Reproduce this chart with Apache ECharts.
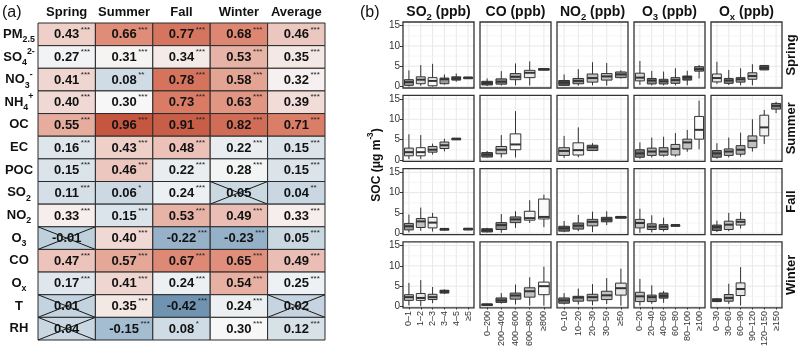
<!DOCTYPE html>
<html><head><meta charset="utf-8">
<script src="https://cdn.jsdelivr.net/npm/echarts@6/dist/echarts.min.js"></script>
<style>html,body{margin:0;padding:0;background:#fff}#c{width:800px;height:358px}</style>
</head><body><div id="c"></div>
<script>
const FONT = '"Liberation Sans", Arial, Helvetica, sans-serif';

// ---------- (a) correlation table ----------
const seasons = ['Spring', 'Summer', 'Fall', 'Winter', 'Average'];
const species = ['PM2.5', 'SO42-', 'NO3-', 'NH4+', 'OC', 'EC', 'POC', 'SO2', 'NO2', 'O3', 'CO', 'Ox', 'T', 'RH'];
const speciesLabels = ['{m|PM}{sub|2.5}', '{m|SO}{sub|4}{sup|2-}', '{m|NO}{sub|3}{sup|-}', '{m|NH}{sub|4}{sup|+}',
  '{m|OC}', '{m|EC}', '{m|POC}', '{m|SO}{sub|2}', '{m|NO}{sub|2}', '{m|O}{sub|3}', '{m|CO}', '{m|O}{sub|x}', '{m|T}', '{m|RH}'];
const rSpring  = [0.43, 0.27, 0.41, 0.40, 0.55, 0.16, 0.15, 0.11, 0.33, -0.01, 0.47, 0.17, 0.01, 0.04];
const rSummer  = [0.66, 0.31, 0.08, 0.30, 0.96, 0.43, 0.46, 0.06, 0.15, 0.40, 0.57, 0.41, 0.35, -0.15];
const rFall    = [0.77, 0.34, 0.78, 0.73, 0.91, 0.48, 0.22, 0.24, 0.53, -0.22, 0.67, 0.24, -0.42, 0.08];
const rWinter  = [0.68, 0.53, 0.58, 0.63, 0.82, 0.22, 0.28, 0.05, 0.49, -0.23, 0.65, 0.54, 0.24, 0.30];
const rAverage = [0.46, 0.35, 0.32, 0.39, 0.71, 0.15, 0.15, 0.04, 0.33, 0.05, 0.49, 0.25, 0.02, 0.12];
// number of significance stars (0 = not significant, crossed out)
const sigSpring  = [3, 3, 3, 3, 3, 3, 3, 3, 3, 0, 3, 3, 0, 0];
const sigSummer  = [3, 3, 2, 3, 3, 3, 3, 1, 3, 3, 3, 3, 3, 3];
const sigFall    = [3, 3, 3, 3, 3, 3, 3, 3, 3, 3, 3, 3, 3, 1];
const sigWinter  = [3, 3, 3, 3, 3, 3, 3, 0, 3, 3, 3, 3, 3, 3];
const sigAverage = [3, 3, 3, 3, 3, 3, 3, 2, 3, 3, 3, 3, 0, 3];

// ---------- (b) SOC box plots ----------
const seasonRows = ['Spring', 'Summer', 'Fall', 'Winter'];
const pollutantTitles = ['{m|SO}{sub|2}{m| (ppb)}', '{m|CO (ppb)}', '{m|NO}{sub|2}{m| (ppb)}', '{m|O}{sub|3}{m| (ppb)}', '{m|O}{sub|x}{m| (ppb)}'];
const binsSO2 = ['0–1', '1–2', '2–3', '3–4', '4–5', '≥5'];
const binsCO  = ['0–200', '200–400', '400–600', '600–800', '≥800'];
const binsNO2 = ['0–10', '10–20', '20–30', '30–50', '≥50'];
const binsO3  = ['0–20', '20–40', '40–60', '60–80', '80–100', '≥100'];
const binsOx  = ['0–30', '30–60', '60–90', '90–120', '120–150', '≥150'];
const socTicks = [0, 5, 10, 15];
const socMinor = [2.5, 7.5, 12.5];

// box stats: [bin index, min, Q1, median, Q3, max]; fill level per box (0 light .. 1 dark)
const boxSpringSO2 = [[0,0.0,0.3,1.1,1.7,4.0],[1,0.2,0.7,1.7,2.4,5.3],[2,0.0,0.2,1.4,2.2,5.6],[3,0.5,0.7,1.8,2.1,3.0],[4,1.2,1.6,2.0,2.4,3.2],[5,2.0,2.05,2.2,2.3,2.4]];
const fillSpringSO2 = [0.5,0.2,0,0.5,0.9,0.8];
const boxSummerSO2 = [[0,0.2,1.0,1.9,2.9,6.3],[1,0.2,1.0,1.9,3.0,6.1],[2,1.3,1.9,2.5,3.3,4.0],[3,2.1,2.8,3.6,4.4,5.2],[4,5.0,5.1,5.2,5.3,5.4]];
const fillSummerSO2 = [0.2,0,0.3,0.3,0.9];
const boxFallSO2 = [[0,0.2,0.8,1.7,2.4,4.6],[1,0.6,1.4,2.9,3.6,6.3],[2,0.4,1.3,2.6,3.9,5.0],[3,1.0,1.0,1.05,1.1,1.15],[5,1.05,1.05,1.1,1.15,1.2]];
const fillFallSO2 = [0.5,0.3,0.05,0.9,0.9];
const boxWinterSO2 = [[0,0.25,1.5,2.3,2.9,5.8],[1,0.1,1.5,2.1,3.2,6.5],[2,0.8,1.7,2.3,3.0,4.8],[3,3.1,3.3,3.7,4.0,4.2]];
const fillWinterSO2 = [0.3,0.1,0.3,0.9];

const boxSpringCO = [[0,0.15,0.4,0.9,1.3,2.0],[1,0.25,0.6,1.2,1.9,3.8],[2,0.3,1.7,2.4,3.2,5.7],[3,0.25,2.2,3.4,4.0,6.2],[4,4.15,4.2,4.3,4.4,4.45]];
const fillSpringCO = [0.9,0.6,0.4,0.1,0.9];
const boxSummerCO = [[0,0.6,0.7,1.3,1.8,2.2],[1,0.6,1.5,2.5,3.3,6.1],[2,0.6,2.5,3.8,6.4,12.0]];
const fillSummerCO = [0.8,0.3,0];
const boxFallCO = [[0,0.2,0.3,0.75,1.1,1.3],[1,0.1,0.9,2.0,2.6,4.7],[2,1.3,2.6,3.4,4.0,5.4],[3,2.5,3.2,3.7,5.4,8.1],[4,1.5,3.5,4.0,8.4,9.5]];
const fillFallCO = [0.9,0.6,0.5,0.05,0];
const boxWinterCO = [[0,0.35,0.4,0.5,0.6,0.65],[1,0.7,1.0,1.5,2.1,3.3],[2,0.5,1.8,2.7,3.3,5.4],[3,0.2,2.3,3.75,4.6,7.2],[4,0.2,2.9,5.0,6.0,9.8]];
const fillWinterCO = [0.9,0.7,0.5,0.3,0];

const boxSpringNO2 = [[0,0.2,0.3,1.0,1.5,3.0],[1,0.25,0.7,1.4,2.0,4.3],[2,0.3,1.1,2.1,3.1,6.0],[3,0.25,1.6,2.5,3.2,5.8],[4,2.0,2.2,3.0,3.6,4.0]];
const fillSpringNO2 = [0.9,0.5,0.3,0.3,0.5];
const boxSummerNO2 = [[0,0.5,1.1,2.2,3.0,5.9],[1,0.65,1.2,2.4,4.2,8.0],[2,2.2,2.3,3.1,3.6,4.1]];
const fillSummerNO2 = [0.3,0.05,0.6];
const boxFallNO2 = [[0,0.25,0.5,1.2,1.7,3.0],[1,0.5,1.0,1.85,2.5,4.5],[2,0.25,1.8,2.8,3.4,5.3],[3,2.0,2.8,3.4,3.9,5.4],[4,3.95,3.95,4.0,4.05,4.1]];
const fillFallNO2 = [0.8,0.6,0.4,0.8,0.9];
const boxWinterNO2 = [[0,0.5,0.8,1.5,2.1,3.3],[1,0.5,1.3,2.2,2.5,4.4],[2,0.3,1.4,2.3,3.0,5.5],[3,0.6,1.7,2.75,3.75,7.0],[4,0.2,2.8,4.5,5.75,9.3]];
const fillWinterNO2 = [0.7,0.5,0.4,0.3,0.1];

const boxSpringO3 = [[0,0.4,1.4,2.2,3.3,6.3],[1,0.3,0.65,1.5,2.0,3.85],[2,0.3,0.65,1.3,1.8,3.7],[3,0.3,0.8,1.6,2.2,4.5],[4,0.3,1.6,2.3,2.6,3.9],[5,2.0,3.8,4.3,4.9,5.3]];
const fillSpringO3 = [0.2,0.6,0.6,0.5,0.9,0.6];
const boxSummerO3 = [[0,0.3,0.65,1.6,2.5,4.3],[1,0.6,1.1,2.05,2.9,5.5],[2,0.8,1.15,2.05,3.0,5.7],[3,0.8,1.2,2.7,3.8,6.6],[4,2.0,2.7,4.3,5.1,7.4],[5,2.6,5.1,7.4,10.7,14.6]];
const fillSummerO3 = [0.7,0.4,0.4,0.3,0.3,0];
const boxFallO3 = [[0,0.1,1.3,2.5,3.4,6.0],[1,0.2,0.9,1.6,2.3,4.4],[2,0.4,0.9,1.6,2.1,3.8],[3,1.9,1.95,2.0,2.05,2.1]];
const fillFallO3 = [0.3,0.5,0.6,0.9];
const boxWinterO3 = [[0,0.25,1.2,2.5,3.5,6.8],[1,0.65,1.2,2.3,2.8,5.2],[2,0.9,2.05,2.6,3.3,3.8]];
const fillWinterO3 = [0.3,0.5,0.8];

const boxSpringOx = [[0,0.65,1.15,2.1,3.1,6.1],[1,0.4,0.8,1.5,2.0,4.1],[2,0.3,1.1,1.8,2.2,4.5],[3,0.3,1.8,2.6,3.4,5.5],[4,4.1,4.1,4.6,5.2,5.2]];
const fillSpringOx = [0.1,0.6,0.5,0.3,0.9];
const boxSummerOx = [[0,0.3,0.65,1.6,2.3,4.1],[1,0.6,1.1,2.05,2.7,5.5],[2,0.8,1.4,2.5,3.5,6.7],[3,2.05,3.0,4.7,5.9,10.0],[4,3.9,5.9,8.0,11.0,12.3],[5,11.5,12.5,13.3,13.9,14.3]];
const fillSummerOx = [0.7,0.4,0.4,0.3,0.05,0.6];
const boxFallOx = [[0,0.3,0.65,1.5,2.0,3.1],[1,0.5,0.9,2.1,2.95,5.0],[2,1.15,2.0,2.8,3.4,5.2]];
const fillFallOx = [0.8,0.3,0.3];
const boxWinterOx = [[0,1.1,1.2,1.55,1.9,2.0],[1,0.65,1.3,2.1,2.95,5.6],[2,0.25,2.7,4.3,5.8,9.7]];
const fillWinterOx = [0.9,0.4,0.1];

// ---------- build ----------
const corrCols = [rSpring, rSummer, rFall, rWinter, rAverage];
const sigCols = [sigSpring, sigSummer, sigFall, sigWinter, sigAverage];
const cells = [];
corrCols.forEach((col, ci) => col.forEach((v, ri) => cells.push([ci, ri, v, sigCols[ci][ri]])));

const binCols = [binsSO2, binsCO, binsNO2, binsO3, binsOx];
const boxTable = [
  [boxSpringSO2, boxSpringCO, boxSpringNO2, boxSpringO3, boxSpringOx],
  [boxSummerSO2, boxSummerCO, boxSummerNO2, boxSummerO3, boxSummerOx],
  [boxFallSO2, boxFallCO, boxFallNO2, boxFallO3, boxFallOx],
  [boxWinterSO2, boxWinterCO, boxWinterNO2, boxWinterO3, boxWinterOx]];
const fillTable = [
  [fillSpringSO2, fillSpringCO, fillSpringNO2, fillSpringO3, fillSpringOx],
  [fillSummerSO2, fillSummerCO, fillSummerNO2, fillSummerO3, fillSummerOx],
  [fillFallSO2, fillFallCO, fillFallNO2, fillFallO3, fillFallOx],
  [fillWinterSO2, fillWinterCO, fillWinterNO2, fillWinterO3, fillWinterOx]];

const mctx = document.createElement('canvas').getContext('2d');
mctx.font = 'bold 13px ' + FONT;

function richSet(size, color) {
  return {
    m:   {fontSize: size, fontWeight: 'bold', fontFamily: FONT, color: color, fill: color, lineHeight: 20},
    sub: {fontSize: size * 0.68, fontWeight: 'bold', fontFamily: FONT, color: color, fill: color, lineHeight: 12, verticalAlign: 'bottom'},
    sup: {fontSize: size * 0.68, fontWeight: 'bold', fontFamily: FONT, color: color, fill: color, lineHeight: 12, verticalAlign: 'top'}
  };
}

function renderCell(params, api) {
  const ci = api.value(0), ri = api.value(1), v = api.value(2), sig = api.value(3);
  const c = api.coord([ci, ri]);
  const s = api.size([1, 1]);
  const x0 = c[0] - s[0] / 2, y0 = c[1] - s[1] / 2;
  const txt = v.toFixed(2);
  const w = mctx.measureText(txt).width;
  const ch = [
    {type: 'rect', shape: {x: x0, y: y0, width: s[0], height: s[1]}, style: {fill: api.visual('color'), stroke: '#2a2a2a', lineWidth: 1}},
    {type: 'text', style: {text: txt, x: c[0], y: c[1] + 0.5, align: 'center', verticalAlign: 'middle', fontSize: 13, fontWeight: 'bold', fontFamily: FONT, fill: '#111'}}
  ];
  if (sig > 0) {
    ch.push({type: 'text', style: {text: '*'.repeat(sig), x: c[0] + w / 2 + 1.5, y: c[1] - 5, align: 'left', verticalAlign: 'middle', fontSize: 8, fontFamily: FONT, fill: '#222'}});
  } else {
    ch.push({type: 'line', shape: {x1: x0, y1: y0, x2: x0 + s[0], y2: y0 + s[1]}, style: {stroke: '#1a1a1a', lineWidth: 1}});
    ch.push({type: 'line', shape: {x1: x0, y1: y0 + s[1], x2: x0 + s[0], y2: y0}, style: {stroke: '#1a1a1a', lineWidth: 1}});
  }
  return {type: 'group', children: ch};
}

function makeGridRender(nCat) {
  return function (params, api) {
    const cs = params.coordSys;
    const ch = [];
    for (let k = 0; k < nCat; k++) {
      const x = api.coord([k, 0])[0];
      ch.push({type: 'line', shape: {x1: x, y1: cs.y, x2: x, y2: cs.y + cs.height}, style: {stroke: '#e8e8e8', lineWidth: 1}});
    }
    socMinor.forEach(t => {
      const y = api.coord([0, t])[1];
      ch.push({type: 'line', shape: {x1: cs.x, y1: y, x2: cs.x + cs.width, y2: y}, style: {stroke: '#f2f2f2', lineWidth: 0.8}});
    });
    socTicks.forEach(t => {
      const y = api.coord([0, t])[1];
      ch.push({type: 'line', shape: {x1: cs.x, y1: y, x2: cs.x + cs.width, y2: y}, style: {stroke: '#e8e8e8', lineWidth: 1}});
    });
    ch.push({type: 'rect', shape: {x: cs.x, y: cs.y, width: cs.width, height: cs.height}, style: {fill: 'none', stroke: '#333', lineWidth: 1.3}});
    return {type: 'group', children: ch};
  };
}

function renderBox(params, api) {
  const xi = api.value(0);
  const x = api.coord([xi, 0])[0];
  const bw = api.size([1, 0])[0] * 0.75;
  const yMin = api.coord([xi, api.value(1)])[1];
  const yQ1 = api.coord([xi, api.value(2)])[1];
  const yMed = api.coord([xi, api.value(3)])[1];
  const yQ3 = api.coord([xi, api.value(4)])[1];
  const yMax = api.coord([xi, api.value(5)])[1];
  const g = Math.round(250 - api.value(6) * 190);
  return {type: 'group', children: [
    {type: 'line', shape: {x1: x, y1: yMin, x2: x, y2: yMax}, style: {stroke: '#333', lineWidth: 1}},
    {type: 'rect', shape: {x: x - bw / 2, y: yQ3, width: bw, height: Math.max(yQ1 - yQ3, 1.5)}, style: {fill: 'rgb(' + g + ',' + g + ',' + g + ')', stroke: '#333', lineWidth: 1}},
    {type: 'line', shape: {x1: x - bw / 2, y1: yMed, x2: x + bw / 2, y2: yMed}, style: {stroke: '#333', lineWidth: 2}}
  ]};
}

const grids = [], xAxes = [], yAxes = [], series = [], graphics = [];

grids.push({left: 38, top: 23, width: 287, height: 317, show: false});
xAxes.push({gridIndex: 0, type: 'category', data: seasons, position: 'top',
  axisLine: {show: false}, axisTick: {show: false}, splitLine: {show: false},
  axisLabel: {interval: 0, fontFamily: FONT, fontWeight: 'bold', fontSize: 13, color: '#111', margin: 4}});
yAxes.push({gridIndex: 0, type: 'category', data: species, inverse: true,
  axisLine: {show: false}, axisTick: {show: false}, splitLine: {show: false},
  axisLabel: {interval: 0, formatter: (v, i) => speciesLabels[i], align: 'center', margin: 19, rich: richSet(13, '#111')}});
series.push({type: 'custom', name: 'corr', xAxisIndex: 0, yAxisIndex: 0, data: cells,
  encode: {x: 0, y: 1}, renderItem: renderCell, silent: true, animation: false});

const PL = 403, PT = 22, PW = 71, PH = 66, DX = 77, DY = 73.3;
let gi = 1;
for (let r = 0; r < 4; r++) {
  for (let c = 0; c < 5; c++) {
    const bins = binCols[c];
    const isBottom = r === 3, isLeft = c === 0;
    grids.push({left: PL + c * DX, top: PT + r * DY, width: PW, height: PH, show: false});
    xAxes.push({gridIndex: gi, type: 'category', data: bins, boundaryGap: true,
      axisLine: {show: false}, splitLine: {show: false},
      axisTick: {show: isBottom, alignWithLabel: true, length: 3, lineStyle: {color: '#333'}},
      axisLabel: {show: isBottom, rotate: 90, interval: 0, fontSize: 9, color: '#333', margin: 3, fontFamily: FONT}});
    yAxes.push({gridIndex: gi, type: 'value', min: -0.35, max: 15.9,
      axisLine: {show: false}, splitLine: {show: false},
      axisTick: {show: isLeft, length: 3, customValues: socTicks, lineStyle: {color: '#333'}},
      axisLabel: {show: isLeft, customValues: socTicks, fontSize: 10, color: '#333', margin: 3, fontFamily: FONT}});
    series.push({type: 'custom', xAxisIndex: gi, yAxisIndex: gi, data: [[0, 0]], z: 1,
      renderItem: makeGridRender(bins.length), silent: true, animation: false});
    const fills = fillTable[r][c];
    series.push({type: 'custom', xAxisIndex: gi, yAxisIndex: gi, z: 2,
      data: boxTable[r][c].map((b, i) => b.concat([fills[i]])),
      encode: {x: 0, y: [1, 2, 3, 4, 5]}, renderItem: renderBox, silent: true, animation: false});
    gi++;
  }
}

graphics.push({type: 'text', x: 2, y: 13, style: {text: '(a)', fontSize: 16, fontFamily: FONT, fill: '#111', align: 'left', verticalAlign: 'middle'}});
graphics.push({type: 'text', x: 360, y: 13, style: {text: '(b)', fontSize: 16, fontFamily: FONT, fill: '#111', align: 'left', verticalAlign: 'middle'}});
pollutantTitles.forEach((t, c) => {
  graphics.push({type: 'text', x: PL + c * DX + PW / 2, y: 12, style: {text: t, rich: richSet(14, '#111'), align: 'center', verticalAlign: 'middle'}});
});
seasonRows.forEach((s, r) => {
  graphics.push({type: 'text', x: 791, y: PT + r * DY + PH / 2, rotation: Math.PI / 2,
    style: {text: s, fontSize: 13, fontWeight: 'bold', fontFamily: FONT, fill: '#111', align: 'center', verticalAlign: 'middle'}});
});
graphics.push({type: 'text', x: 377, y: 165, rotation: Math.PI / 2,
  style: {text: '{m|SOC (μg m}{sup|-3}{m|)}', rich: richSet(12, '#111'), align: 'center', verticalAlign: 'middle'}});

const chart = echarts.init(document.getElementById('c'), null, {renderer: 'canvas'});
chart.setOption({
  animation: false,
  backgroundColor: '#fff',
  grid: grids, xAxis: xAxes, yAxis: yAxes,
  visualMap: {type: 'continuous', show: false, seriesIndex: 0, dimension: 2, min: -0.5, max: 1.1,
    inRange: {color: ['#5f87a8', '#afc5d6', '#f7f7f7', '#dc806a', '#b8402a']}},
  series: series,
  graphic: graphics
});
</script></body></html>
